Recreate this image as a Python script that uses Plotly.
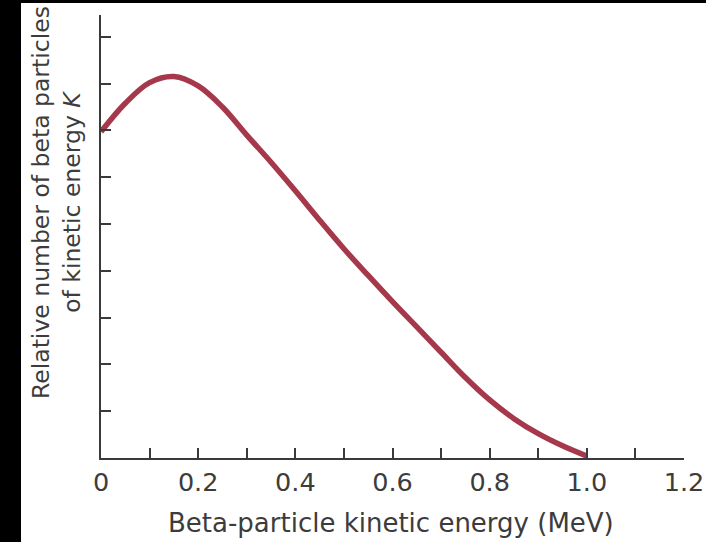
import plotly.graph_objects as go

energy = [0.00, 0.05, 0.10, 0.15, 0.20, 0.25, 0.30, 0.35, 0.40, 0.45, 0.50, 0.55,
          0.60, 0.65, 0.70, 0.75, 0.80, 0.85, 0.90, 0.95, 1.00]
counts = [6.97, 7.58, 8.02, 8.15, 7.95, 7.50, 6.90, 6.32, 5.71, 5.08, 4.47, 3.90,
          3.34, 2.80, 2.26, 1.72, 1.24, 0.84, 0.52, 0.26, 0.04]
x_tick_vals = [0, 0.2, 0.4, 0.6, 0.8, 1.0, 1.2]
x_tick_text = ["0", "0.2", "0.4", "0.6", "0.8", "1.0", "1.2"]
y_tick_vals = [1, 2, 3, 4, 5, 6, 7, 8, 9]

W, H = 706, 542
L, R, T, B = 101, 22, 15, 84
pw, ph = W - L - R, H - T - B

def px_x(p):
    return (p - L) / pw

def px_y(p):
    return (H - B - p) / ph

fig = go.Figure()
fig.add_trace(go.Scatter(x=energy, y=counts, mode="lines",
                         line=dict(color="#a5384a", width=5.5, shape="spline", smoothing=1),
                         showlegend=False, hoverinfo="skip"))

axis_col = "#3a3a3a"
txt_col = "#3c3c3c"
fig.update_xaxes(range=[0, 1.2], showgrid=False, zeroline=False, automargin=False,
                 showline=True, linecolor=axis_col, linewidth=2,
                 tickvals=x_tick_vals, ticktext=x_tick_text,
                 ticks="inside", ticklen=10, tickwidth=2, tickcolor=axis_col,
                 minor=dict(ticks="inside", dtick=0.1, tick0=0, ticklen=10, tickwidth=2,
                            tickcolor=axis_col, showgrid=False),
                 tickfont=dict(family="DejaVu Sans", size=25.5, color=txt_col))
fig.update_yaxes(range=[0, ph / 46.8], showgrid=False, zeroline=False, automargin=False,
                 showline=True, linecolor=axis_col, linewidth=2,
                 tickvals=y_tick_vals, showticklabels=False,
                 ticks="inside", ticklen=10, tickwidth=2, tickcolor=axis_col)

fig.add_annotation(text="Beta-particle kinetic energy (MeV)", xref="paper", yref="paper",
                   x=px_x(391), y=px_y(523), xanchor="center", yanchor="middle",
                   showarrow=False, font=dict(family="DejaVu Sans", size=26, color=txt_col))
fig.add_annotation(text="Relative number of beta particles<br>of kinetic energy <i>K</i>",
                   xref="paper", yref="paper", x=px_x(56), y=px_y(203),
                   xanchor="center", yanchor="middle", textangle=-90,
                   showarrow=False, font=dict(family="DejaVu Sans", size=23.5, color=txt_col))

fig.add_shape(type="rect", xref="paper", yref="paper", x0=px_x(-5), x1=px_x(21),
              y0=px_y(H + 5), y1=px_y(-5), fillcolor="black", line=dict(width=0), layer="above")
fig.add_shape(type="rect", xref="paper", yref="paper", x0=px_x(-5), x1=px_x(W + 10),
              y0=px_y(3), y1=px_y(-5), fillcolor="black", line=dict(width=0), layer="above")

fig.update_layout(width=W, height=H, margin=dict(l=L, r=R, t=T, b=B, autoexpand=False),
                  paper_bgcolor="white", plot_bgcolor="white")
fig.write_html("out.html")
